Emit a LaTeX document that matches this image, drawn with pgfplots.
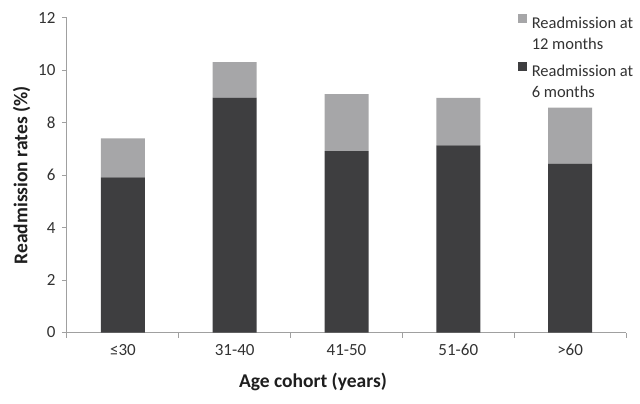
\documentclass[border=0pt]{standalone}
\usepackage{fontspec}
\setmainfont{Carlito}
\usepackage{pgfplots}
\pgfplotsset{compat=1.18}
\definecolor{darkbar}{RGB}{62,62,64}
\definecolor{lightbar}{RGB}{166,166,168}
\definecolor{axisgray}{RGB}{160,160,160}
\definecolor{ticktext}{RGB}{50,50,50}
\definecolor{labeltext}{RGB}{30,30,30}

\begin{document}
\begin{tikzpicture}
\path[use as bounding box] (-67bp,-71.5bp) rectangle (573bp,332.5bp);
\begin{axis}[
    at={(0,0)}, anchor=south west,
    scale only axis, width=559bp, height=314.5bp,
    ybar stacked, bar width=44bp,
    xmin=-0.5, xmax=4.5, ymin=0, ymax=12,
    ytick={0,2,...,12},
    xtick={0,...,4},
    xticklabels={≤30,31-40,41-50,51-60,>60},
    minor xtick={-0.5,0.5,...,4.5},
    major x tick style={draw=none},
    axis x line*=bottom, axis y line*=left,
    tick align=outside,
    major tick length=5bp, minor tick length=5bp,
    axis line style={draw=axisgray, line width=1bp},
    every tick/.style={draw=axisgray, line width=1bp},
    minor tick style={draw=axisgray, line width=1bp},
    /pgf/number format/assume math mode=true,
    ticklabel style={font=\fontsize{17bp}{20bp}\selectfont, text=ticktext},
    xticklabel style={yshift=-3bp},
    yticklabel style={xshift=-3bp},
    xlabel={Age cohort (years)},
    ylabel={Readmission rates (\%)},
    label style={font=\bfseries\fontsize{19.5bp}{23bp}\selectfont, text=labeltext},
    xlabel style={at={(ticklabel cs:0.44)}, yshift=-11bp},
    ylabel style={yshift=1bp},
    reverse legend,
    legend style={at={(0.806,1.017)}, anchor=north west, draw=none, fill=none,
        inner sep=0pt, font=\fontsize{16.5bp}{20bp}\selectfont, text=ticktext,
        row sep=28bp, column sep=3bp},
    legend cell align=left,
    legend image code/.code={\fill[#1,draw=none] (0bp,-0.5bp) rectangle (9bp,8.5bp);},
]
\addplot[fill=darkbar, draw=none] coordinates {(0,5.92) (1,8.96) (2,6.92) (3,7.14) (4,6.44)};
\addlegendentry{\begin{tabular}[t]{@{}l@{}}Readmission at\\[1bp]6 months\end{tabular}}
\addplot[fill=lightbar, draw=none] coordinates {(0,1.49) (1,1.36) (2,2.18) (3,1.81) (4,2.14)};
\addlegendentry{\begin{tabular}[t]{@{}l@{}}Readmission at\\[1bp]12 months\end{tabular}}
\end{axis}
\end{tikzpicture}
\end{document}
